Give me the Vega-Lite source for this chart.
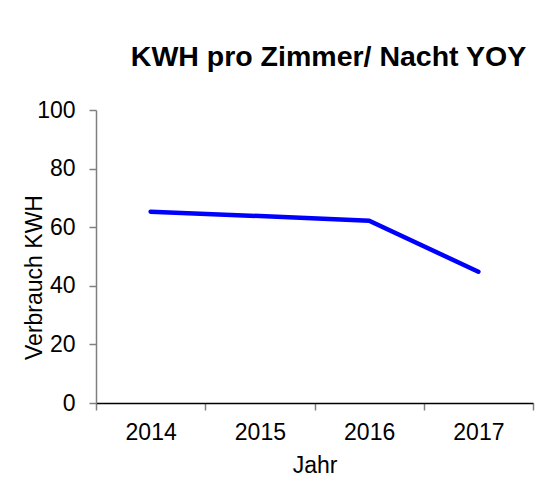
{
  "$schema": "https://vega.github.io/schema/vega-lite/v6.json",
  "width": 437,
  "height": 293,
  "autosize": {"type": "none"},
  "padding": {"left": 96, "top": 110, "right": 9, "bottom": 85},
  "background": "white",
  "config": {
    "font": "Liberation Sans",
    "view": {"stroke": null}
  },
  "title": {
    "text": "KWH pro Zimmer/ Nacht YOY",
    "font": "Liberation Sans",
    "fontSize": 28.5,
    "fontWeight": "bold",
    "color": "black",
    "anchor": "middle",
    "dx": 14,
    "offset": 28
  },
  "data": {
    "values": [
      {"Jahr": "2014", "KWH": 65.3},
      {"Jahr": "2015", "KWH": 63.8},
      {"Jahr": "2016", "KWH": 62.2},
      {"Jahr": "2017", "KWH": 44.8}
    ]
  },
  "mark": {"type": "line", "color": "#0000FF", "strokeWidth": 4.5, "strokeCap": "round"},
  "encoding": {
    "x": {
      "field": "Jahr",
      "type": "ordinal",
      "scale": {"type": "band", "paddingInner": 0, "paddingOuter": 0},
      "axis": {
        "title": "Jahr",
        "titleFontSize": 23,
        "titleFontWeight": "normal",
        "titleColor": "black",
        "titlePadding": 10,
        "labelAngle": 0,
        "labelFontSize": 23,
        "labelColor": "black",
        "labelPadding": 11,
        "domainColor": "black",
        "domainWidth": 1.5,
        "tickColor": "#808080",
        "tickWidth": 1.5,
        "tickSize": 7,
        "tickBand": "extent",
        "grid": false
      }
    },
    "y": {
      "field": "KWH",
      "type": "quantitative",
      "scale": {"domain": [0, 100], "nice": false},
      "axis": {
        "title": "Verbrauch KWH",
        "titleFontSize": 23,
        "titleFontWeight": "normal",
        "titleColor": "black",
        "titleX": -50,
        "titleY": 167,
        "values": [0, 20, 40, 60, 80, 100],
        "labelFontSize": 23,
        "labelColor": "black",
        "labelPadding": 14,
        "domainColor": "#808080",
        "domainWidth": 1.5,
        "tickColor": "#808080",
        "tickWidth": 1.5,
        "tickSize": 7,
        "grid": false
      }
    }
  }
}
